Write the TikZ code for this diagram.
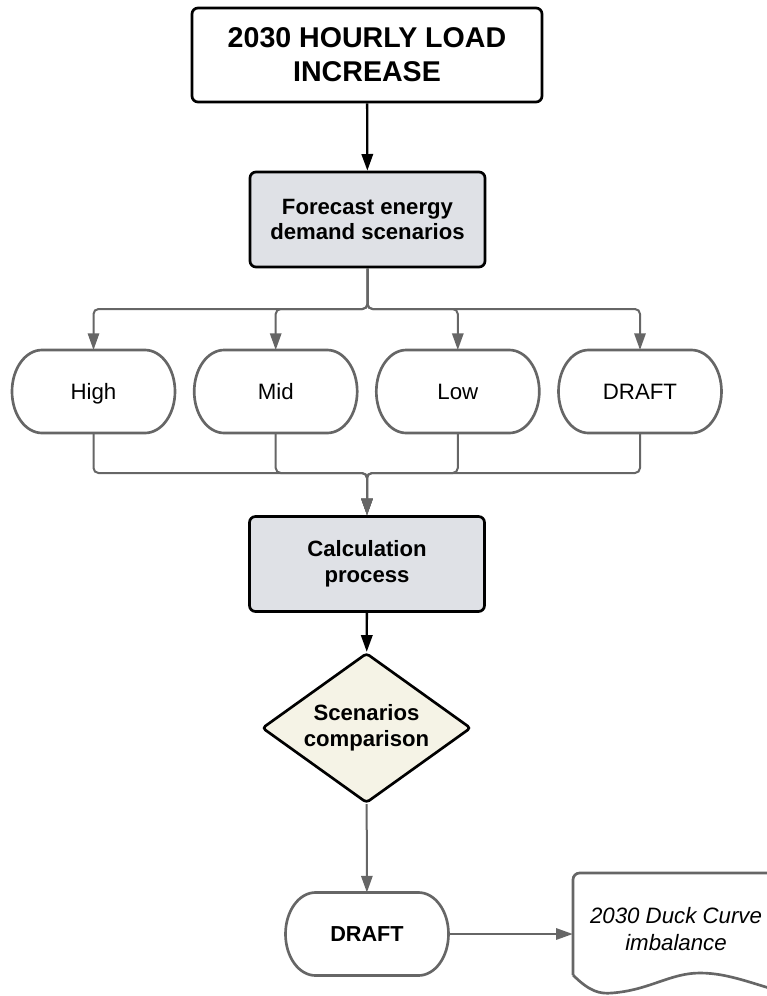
\documentclass[tikz,border=0pt]{standalone}
\usepackage{fontspec}
\setmainfont{Liberation Sans}
\usetikzlibrary{arrows.meta,shapes.geometric}
\definecolor{linegray}{HTML}{666666}
\definecolor{procfill}{HTML}{DFE1E6}
\definecolor{decfill}{HTML}{F5F3E6}

\begin{document}
\begin{tikzpicture}[x=0.3mm, y=-0.3mm,
			head/.style = {draw, line width=0.8mm, rounded corners=1.8mm, fill=white, minimum width=105mm, minimum height=28.2mm, align=center, font=\fontsize{24.4}{29}\selectfont\bfseries},
			proc/.style = {draw, line width=0.8mm, rounded corners=1.8mm, fill=procfill, minimum width=70.5mm, minimum height=28.5mm, align=center, font=\fontsize{18.9}{22}\selectfont\bfseries},
			pill/.style = {outer sep=0pt, minimum width=48.9mm, minimum height=24.9mm, text height=13.6pt, text depth=0pt, font=\fontsize{19}{22}\selectfont},
			pillline/.style = {draw=linegray, line width=0.8mm},
			decide/.style = {diamond, aspect=1.4, draw, line width=0.8mm, rounded corners=1mm, fill=decfill, inner sep=0pt, minimum width=62.7mm, minimum height=45mm, align=center, font=\fontsize{18.9}{22}\selectfont\bfseries},
			flow/.style = {draw=linegray, line width=0.6mm, rounded corners=1.5mm, -{Triangle[length=5mm,width=3.4mm]}},
			blackflow/.style = {draw=black, line width=0.7mm, -{Triangle[length=5mm,width=3.4mm]}}]
			
			\useasboundingbox (0,0) rectangle (767,996);
			\clip (0,0) rectangle (767,996);
			
			\node[head] (load) at (367,55) {2030 HOURLY LOAD\\INCREASE};
			\node[proc] (fc) at (367.5,219.5) {Forecast energy\\demand scenarios};
			
			\node[pill] (high) at (93.5,391.5) {High};
			\node[pill] (mid) at (275.7,391.5) {Mid};
			\node[pill] (low) at (457.8,391.5) {Low};
			\node[pill] (draft) at (640,391.5) {DRAFT};
			
			\coordinate (split) at (367.5,309);
			\coordinate (join) at (367,473);
			
			\node[proc] (calc) at (367,564) {Calculation\\process};
			\node[decide] (cmp) at (366.5,728) {Scenarios\\comparison};
			\node[pill, font=\fontsize{18.5}{22}\selectfont\bfseries] (out) at (367,934) {DRAFT};
			\node[minimum width=61.8mm, minimum height=30.6mm, align=center, font=\fontsize{19}{23}\selectfont\itshape] (duck) at (676,929) {2030 Duck Curve\\imbalance};
			
			% pill outlines
			\foreach \n in {high,mid,low,draft,out}
				\draw[pillline] ([xshift=9mm]\n.north west) -- ([xshift=-9mm]\n.north east) arc[start angle=90, end angle=-90, x radius=9mm, y radius=12.45mm] -- ([xshift=9mm]\n.south west) arc[start angle=270, end angle=90, x radius=9mm, y radius=12.45mm] -- cycle;
			
			% document outline
			\draw[pillline, rounded corners=2mm] (573,975) -- (573,873) -- (800,873) -- (800,1000);
			\draw[pillline] (573,975) .. controls (590,992) and (600,994) .. (612,993) .. controls (650,990) and (670,973) .. (700,973) .. controls (730,973) and (755,985) .. (800,997);
			
			\draw[blackflow] (load) to (fc);
			
			\draw[flow] (fc.south) -- (split) -| (high.north);
			\draw[flow] (fc.south) -- (split) -| (mid.north);
			\draw[flow] (fc.south) -- (split) -| (low.north);
			\draw[flow] (fc.south) -- (split) -| (draft.north);
			
			\draw[flow] (high.south) |- (join) -- (calc.north);
			\draw[flow] (mid.south) |- (join) -- (calc.north);
			\draw[flow] (low.south) |- (join) -- (calc.north);
			\draw[flow] (draft.south) |- (join) -- (calc.north);
			
			\draw[blackflow] (calc) to (cmp);
			\draw[flow] (cmp) to (out);
			\draw[flow] (out.east) -- (out.east -| duck.west);
			
		\end{tikzpicture}
\end{document}
